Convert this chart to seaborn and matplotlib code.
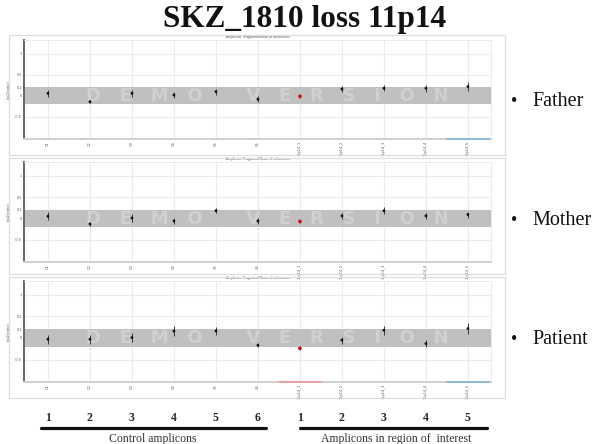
import pandas as pd
import seaborn as sns
import matplotlib.pyplot as plt
import matplotlib.transforms as mtransforms
from matplotlib.patches import Rectangle
from matplotlib.lines import Line2D

# amplicons: 6 controls then 5 in the 11p14 region
amplicons = ["C1", "C2", "C3", "C4", "C5", "C6",
             "11p14_1", "11p14_2", "11p14_3", "11p14_4", "11p14_5"]
control_numbers = ["1", "2", "3", "4", "5", "6"]
region_numbers = ["1", "2", "3", "4", "5"]

father_vals = [0.06, -0.14, 0.06, 0.02, 0.10, -0.08, -0.01, 0.16, 0.18, 0.18, 0.22]
father_err = [0.08, 0.04, 0.08, 0.08, 0.07, 0.07, 0.04, 0.07, 0.07, 0.08, 0.10]
mother_vals = [0.05, -0.13, 0.01, -0.06, 0.18, -0.06, -0.07, 0.06, 0.18, 0.06, 0.09]
mother_err = [0.09, 0.05, 0.09, 0.08, 0.06, 0.07, 0.04, 0.07, 0.08, 0.07, 0.07]
patient_vals = [-0.03, -0.03, 0.01, 0.16, 0.16, -0.17, -0.24, -0.05, 0.18, -0.13, 0.22]
patient_err = [0.11, 0.10, 0.11, 0.11, 0.10, 0.05, 0.05, 0.08, 0.10, 0.08, 0.12]

flagged = "11p14_1"          # red point
father_red_axis, father_blue_axis = [], ["11p14_5"]
mother_red_axis, mother_blue_axis = [], []
patient_red_axis, patient_blue_axis = ["11p14_1"], ["11p14_5"]

band = (-0.2, 0.2)
yticks = [-0.5, 0, 0.2, 0.5, 1]

sns.set_theme(style="white")
plt.rcParams["font.family"] = ["DejaVu Sans"]

W, H = 596, 444
fig = plt.figure(figsize=(W / 100, H / 100), dpi=100)


def px_box(x0, y0, x1, y1):
    return [x0 / W, 1 - y1 / H, (x1 - x0) / W, (y1 - y0) / H]


def draw_panel(frame, plot, vals, errs, red_axis, blue_axis, who, label_y):
    fx0, fy0, fx1, fy1 = frame
    fig.patches.append(Rectangle((fx0 / W, 1 - fy1 / H), (fx1 - fx0) / W, (fy1 - fy0) / H,
                                 transform=fig.transFigure, fill=False,
                                 edgecolor="#dddddd", lw=0.9))
    ax = fig.add_axes(px_box(*plot))
    df = pd.DataFrame({"amplicon": amplicons, "value": vals, "err": errs})
    df["state"] = ["loss" if a == flagged else "normal" for a in amplicons]

    ax.axhspan(band[0], band[1], color="#c0c0c0", lw=0, zorder=1)
    ax.errorbar(df["amplicon"], df["value"], yerr=df["err"], fmt="none",
                ecolor="#222222", elinewidth=0.6, capsize=0, zorder=3)
    sns.scatterplot(data=df, x="amplicon", y="value", hue="state", size="state",
                    palette={"normal": "#111111", "loss": "#cc1111"},
                    sizes={"normal": 4, "loss": 7}, edgecolor="none",
                    legend=False, ax=ax, zorder=4)

    ax.set_xlim(-0.57, len(amplicons) - 0.45)
    ax.set_ylim(-1.02, 1.32)
    ax.set_yticks(yticks)
    ax.set_yticklabels([f"{t:g}" for t in yticks])
    ax.grid(True, color="#ebebeb", lw=0.8)
    ax.set_axisbelow(True)
    ax.tick_params(axis="both", labelsize=2.5, length=0, pad=1.5, colors="#555555")
    ax.tick_params(axis="x", labelrotation=90)
    ax.set_xlabel("")
    ax.set_ylabel("log2(ratio)", fontsize=2.5, labelpad=3, color="#555555")
    for s in ["top", "right"]:
        ax.spines[s].set_color("#e8e8e8")
        ax.spines[s].set_linewidth(0.6)
    ax.spines["left"].set_color("#666666")
    ax.spines["left"].set_linewidth(1.4)
    ax.spines["bottom"].set_color("#cfcfcf")
    ax.spines["bottom"].set_linewidth(1.4)

    trans = ax.get_xaxis_transform()
    for a in red_axis:
        i = amplicons.index(a)
        ax.plot([i - 0.5, i + 0.5], [0, 0], transform=trans, color="#e8a0a0",
                lw=1.4, clip_on=False, zorder=5)
    for a in blue_axis:
        i = amplicons.index(a)
        ax.plot([i - 0.5, i + 0.5], [0, 0], transform=trans, color="#8fb8d8",
                lw=1.4, clip_on=False, zorder=5)

    wm = mtransforms.blended_transform_factory(ax.transAxes, ax.transData)
    ax.text(0.52, -0.005, "D   E   M   O       V   E   R   S   I   O   N", transform=wm,
            ha="center", va="center", fontsize=13, fontweight="bold",
            color="#d0d0d0", zorder=2, clip_on=True)
    ax.text(0.5, 1.012, "Amplicon: Fragment/Mean of references", transform=ax.transAxes,
            ha="center", va="bottom", fontsize=2.3, color="#444444")

    fig.text(511 / W, 1 - label_y / H, "•", fontsize=13, family="Liberation Serif",
             ha="left", va="center", color="#111111")
    fig.text(532 / W, 1 - label_y / H, who, fontsize=14.5, family="Liberation Serif",
             ha="left", va="center", color="#111111")
    return ax


draw_panel((9, 35, 505, 155), (24, 40, 491, 139), father_vals, father_err,
           father_red_axis, father_blue_axis, "Father", 101)
draw_panel((9, 158, 505, 274), (24, 162, 491, 262), mother_vals, mother_err,
           mother_red_axis, mother_blue_axis, "Mother", 220)
ax3 = draw_panel((9, 277, 505, 398), (24, 281, 491, 382), patient_vals, patient_err,
                 patient_red_axis, patient_blue_axis, "Patient", 340)

fig.text(305 / W, 1 - 19 / H, "SKZ_1810 loss 11p14", fontsize=22.5, fontweight="bold",
         family="Liberation Serif", ha="center", va="center", color="#111111")

# group annotation under the bottom panel
bt = mtransforms.blended_transform_factory(ax3.transData, fig.transFigure)
for i, n in enumerate(control_numbers):
    fig.text(i, 1 - 418 / H, n, transform=bt, fontsize=8.5, fontweight="bold",
             family="Liberation Serif", ha="center", va="center")
for i, n in enumerate(region_numbers):
    fig.text(i + len(control_numbers), 1 - 418 / H, n, transform=bt, fontsize=8.5,
             fontweight="bold", family="Liberation Serif", ha="center", va="center")
fig.lines.append(Line2D([-0.17, 5.19], [1 - 428 / H] * 2, transform=bt,
                        color="#111111", lw=2.3))
fig.lines.append(Line2D([6.0, 10.45], [1 - 428 / H] * 2, transform=bt,
                        color="#111111", lw=2.3))
fig.text(2.5, 1 - 439 / H, "Control amplicons", transform=bt, fontsize=8.5,
         family="Liberation Serif", ha="center", va="center", color="#333333")
fig.text(8.3, 1 - 439 / H, "Amplicons in region of  interest", transform=bt,
         fontsize=8.5, family="Liberation Serif", ha="center", va="center",
         color="#333333")

fig.savefig("out.png", dpi=100)
